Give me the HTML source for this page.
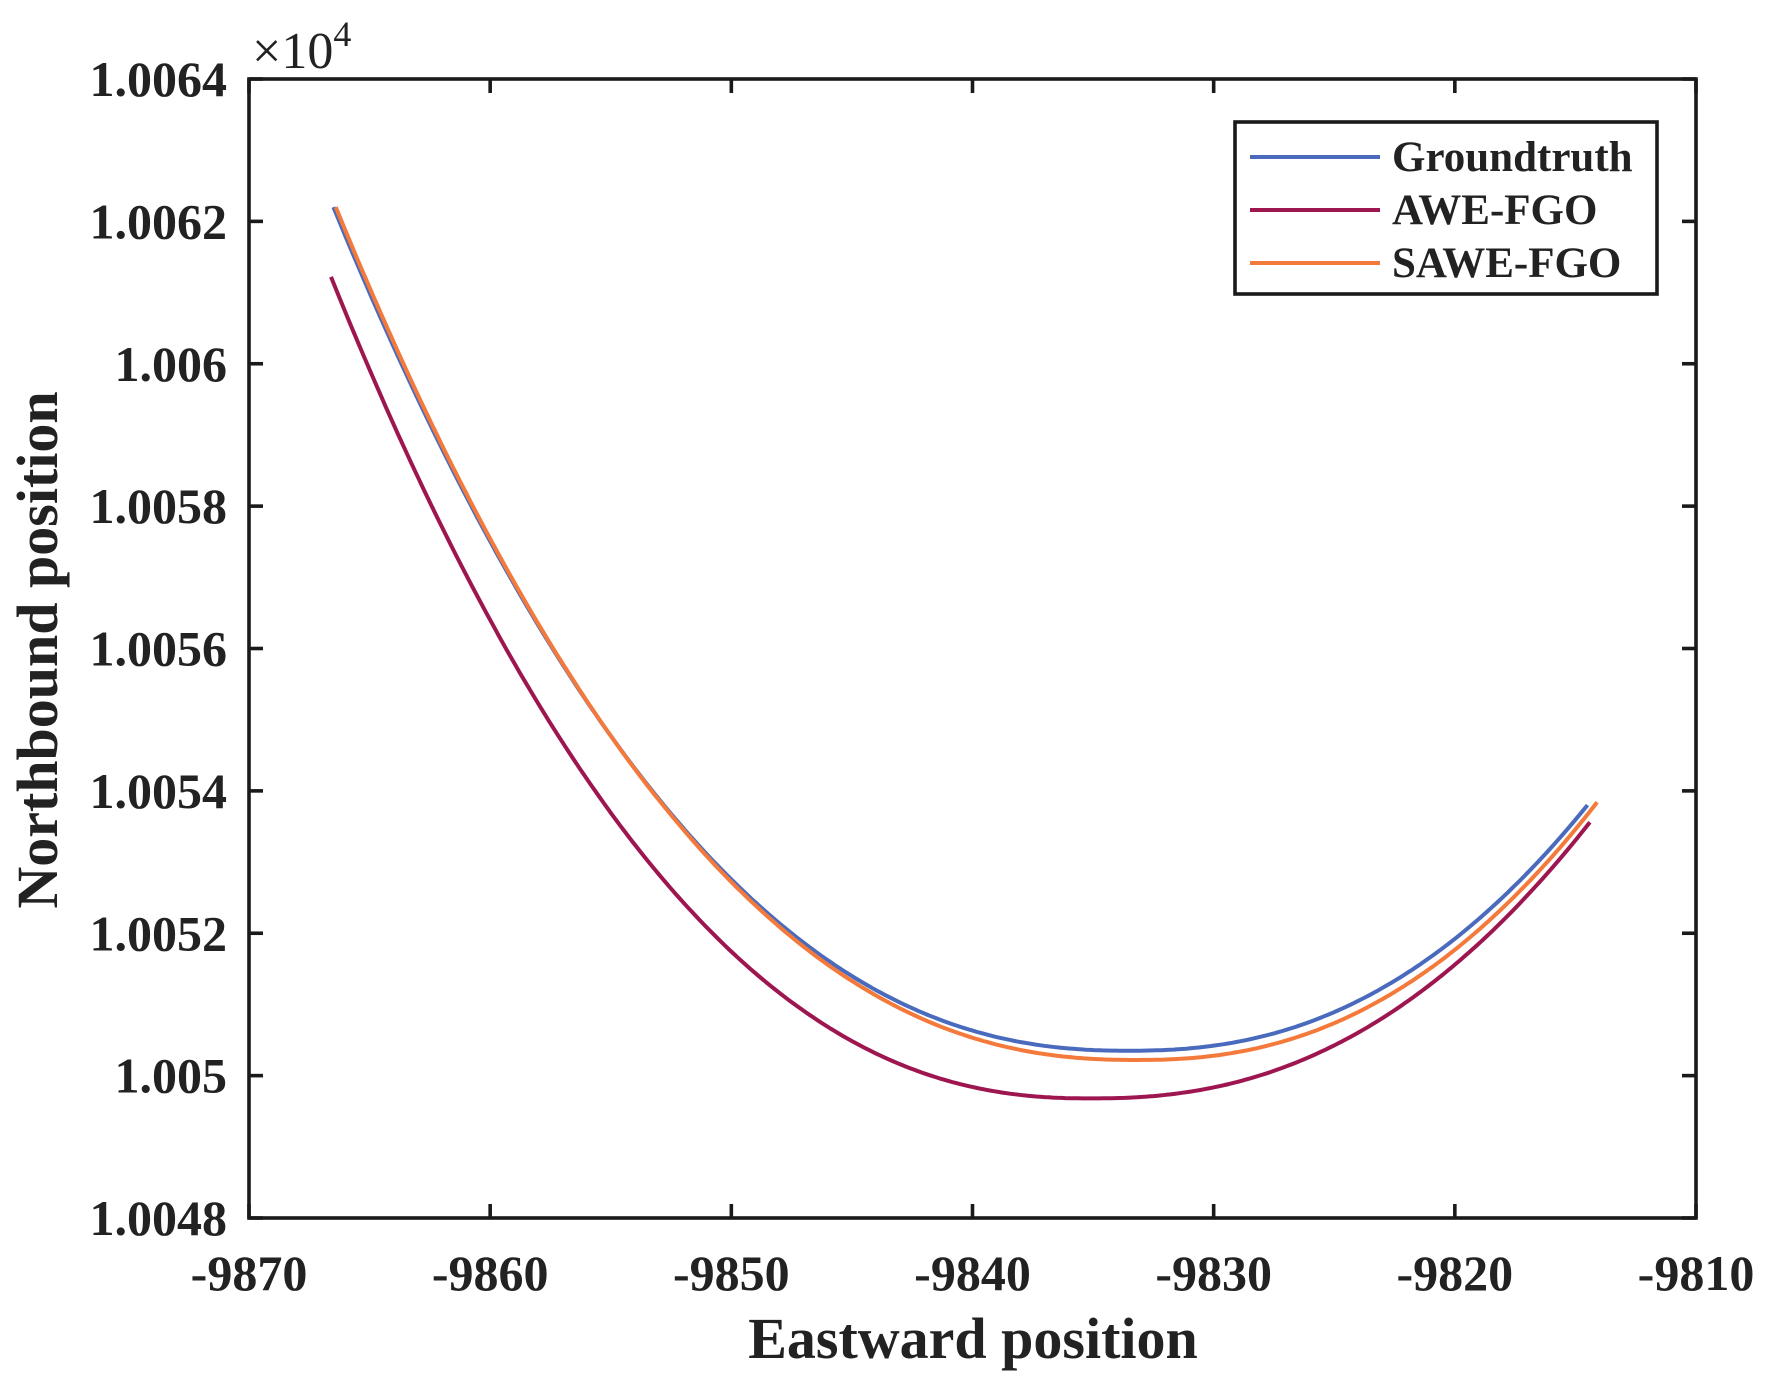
<!DOCTYPE html>
<html><head><meta charset="utf-8"><style>html,body{margin:0;padding:0;background:#fff}svg{display:block}</style></head>
<body>
<svg id="s" width="1768" height="1393" xmlns="http://www.w3.org/2000/svg" font-family="Liberation Serif, serif" font-weight="bold" fill="#222">
<g id="curves" fill="none" stroke-width="4" stroke-linejoin="round"></g>
<g id="ax" stroke="#1a1a1a" stroke-width="3.6" fill="none"></g>
<g id="lab" font-size="50"></g>
<text x="252" y="68" font-size="52" font-weight="normal">×10<tspan dy="-22" font-size="36">4</tspan></text>
<text x="973" y="1358" font-size="58" text-anchor="middle">Eastward position</text>
<text transform="translate(57,650) rotate(-90)" font-size="58" text-anchor="middle">Northbound position</text>
<rect x="1235" y="122" width="422" height="172" fill="#fff" stroke="#1a1a1a" stroke-width="3.6"/>
<line x1="1250" y1="157" x2="1380" y2="157" stroke="#4a6bbd" stroke-width="4"/>
<line x1="1250" y1="210" x2="1380" y2="210" stroke="#9e1650" stroke-width="4"/>
<line x1="1250" y1="263" x2="1380" y2="263" stroke="#f47a3c" stroke-width="4"/>
<text x="1392" y="171" font-size="43">Groundtruth</text>
<text x="1392" y="224" font-size="43">AWE-FGO</text>
<text x="1392" y="277" font-size="43">SAWE-FGO</text>
</svg>
<script>
var L=249,R=1696,T=79,B=1218;
function X(v){return L+(v+9870)/60*(R-L);}
function Y(v){return B-(v-1.0048)/0.0016*(B-T);}
var ns="http://www.w3.org/2000/svg";
function el(p,n,a){var e=document.createElementNS(ns,n);for(var k in a)e.setAttribute(k,a[k]);p.appendChild(e);return e;}
var ax=document.getElementById('ax'),lab=document.getElementById('lab');
el(ax,'rect',{x:L,y:T,width:R-L,height:B-T});
for(var i=0;i<=6;i++){var v=-9870+i*10,x=X(v);
 el(ax,'line',{x1:x,y1:B,x2:x,y2:B-14});el(ax,'line',{x1:x,y1:T,x2:x,y2:T+14});
 var t=el(lab,'text',{x:x,y:1290,'text-anchor':'middle'});t.textContent=v;}
var yl=['1.0048','1.005','1.0052','1.0054','1.0056','1.0058','1.006','1.0062','1.0064'];
for(var i=0;i<=8;i++){var y=Y(1.0048+i*0.0002);
 el(ax,'line',{x1:L,y1:y,x2:L+14,y2:y});el(ax,'line',{x1:R,y1:y,x2:R-14,y2:y});
 var t=el(lab,'text',{x:227,y:y+17,'text-anchor':'end'});t.textContent=yl[i];}
var cg=document.getElementById('curves');
function curve(x0,x1,xm,ym,kl,kr,col){var d='';
 for(var j=0;j<=300;j++){var x=x0+(x1-x0)*j/300,dx=x-xm,k=dx<0?kl:kr;
  var y=ym+k*Math.pow(Math.abs(dx),2.3);d+=(j?'L':'M')+X(x).toFixed(1)+' '+Y(y).toFixed(1);}
 el(cg,'path',{d:d,stroke:col});}
function kk(dy,dx){return dy/Math.pow(dx,2.3);}
curve(-9866.6,-9814.4,-9835.1,1.004968,kk(0.001154,31.5),kk(0.000388,20.7),'#9e1650');
curve(-9866.5,-9814.5,-9833.5,1.005035,kk(0.001185,33),kk(0.000345,19),'#4a6bbd');
curve(-9866.4,-9814.1,-9833.2,1.005022,kk(0.001198,33.2),kk(0.000362,19.1),'#f47a3c');
</script>
</body></html>
